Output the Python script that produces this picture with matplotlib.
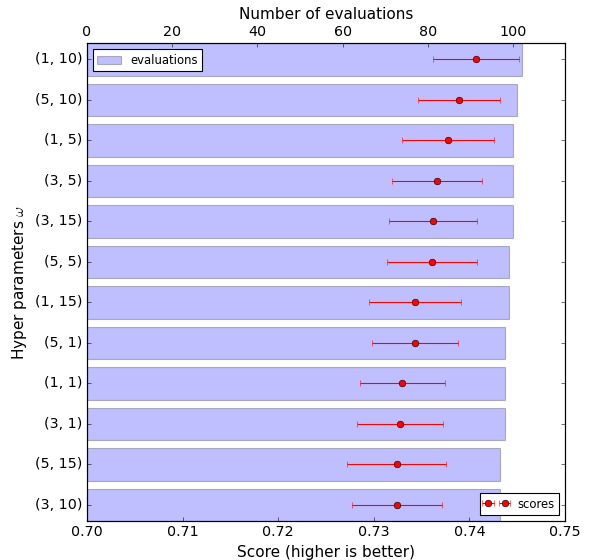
import matplotlib
matplotlib.use("Agg")
import matplotlib.pyplot as plt
import numpy as np

plt.style.use('classic')

labels = ["(1, 10)", "(5, 10)", "(1, 5)", "(3, 5)", "(3, 15)", "(5, 5)",
          "(1, 15)", "(5, 1)", "(1, 1)", "(3, 1)", "(5, 15)", "(3, 10)"]
evaluations = [102, 101, 100, 100, 100, 99, 99, 98, 98, 98, 97, 97]
scores = [0.7407, 0.7389, 0.7378, 0.7366, 0.7362, 0.7361,
          0.7343, 0.7343, 0.7330, 0.7327, 0.7324, 0.7324]
score_err = [0.0045, 0.0043, 0.0048, 0.0047, 0.0046, 0.0047,
             0.0048, 0.0045, 0.0044, 0.0045, 0.0052, 0.0047]

TICK_FS = 12.8
LABEL_FS = 13.7
LEG_FS = 10.5

fig = plt.figure(figsize=(597/80, 560/80), dpi=80)
fig.patch.set_facecolor('white')
ax = fig.add_axes([0.1457, 0.0696, 0.8007, 0.8531])
y = np.arange(len(labels))

ax.barh(y, evaluations, height=0.8, align='center', color='b', alpha=0.25,
        label='evaluations')
ax.set_xlim(0, max(evaluations) * 1.1)
ax.set_ylim(len(labels) - 0.6, -0.4)
ax.set_yticks(y)
ax.set_yticklabels(labels, fontsize=TICK_FS)
ax.set_ylabel(r"Hyper parameters $\omega$", fontsize=LABEL_FS)
ax.legend(loc='upper left', fontsize=LEG_FS)

ax2 = ax.twiny()
ax2.errorbar(scores, y, xerr=score_err, fmt='o', color='r', ecolor='r',
             markeredgecolor='k', markersize=6, capsize=3, label='scores')
ax2.set_xlim(0.70, 0.75)
ax2.set_ylim(len(labels) - 0.6, -0.4)
ax2.legend(loc='lower right', fontsize=LEG_FS)

# bars axis on top, scores axis on bottom
ax.xaxis.set_ticks_position('top')
ax.xaxis.set_label_position('top')
ax.set_xlabel("Number of evaluations", fontsize=LABEL_FS)
ax.tick_params(axis='x', labelsize=TICK_FS, labeltop=True, labelbottom=False,
               top=True, bottom=False)
ax2.xaxis.set_ticks_position('bottom')
ax2.xaxis.set_label_position('bottom')
ax2.set_xlabel("Score (higher is better)", fontsize=LABEL_FS)
ax2.tick_params(axis='x', labelsize=TICK_FS, labelbottom=True, labeltop=False,
                bottom=True, top=False)
ax2.set_xticks([0.70, 0.71, 0.72, 0.73, 0.74, 0.75])

fig.savefig("out.png", dpi=80, facecolor='white')
